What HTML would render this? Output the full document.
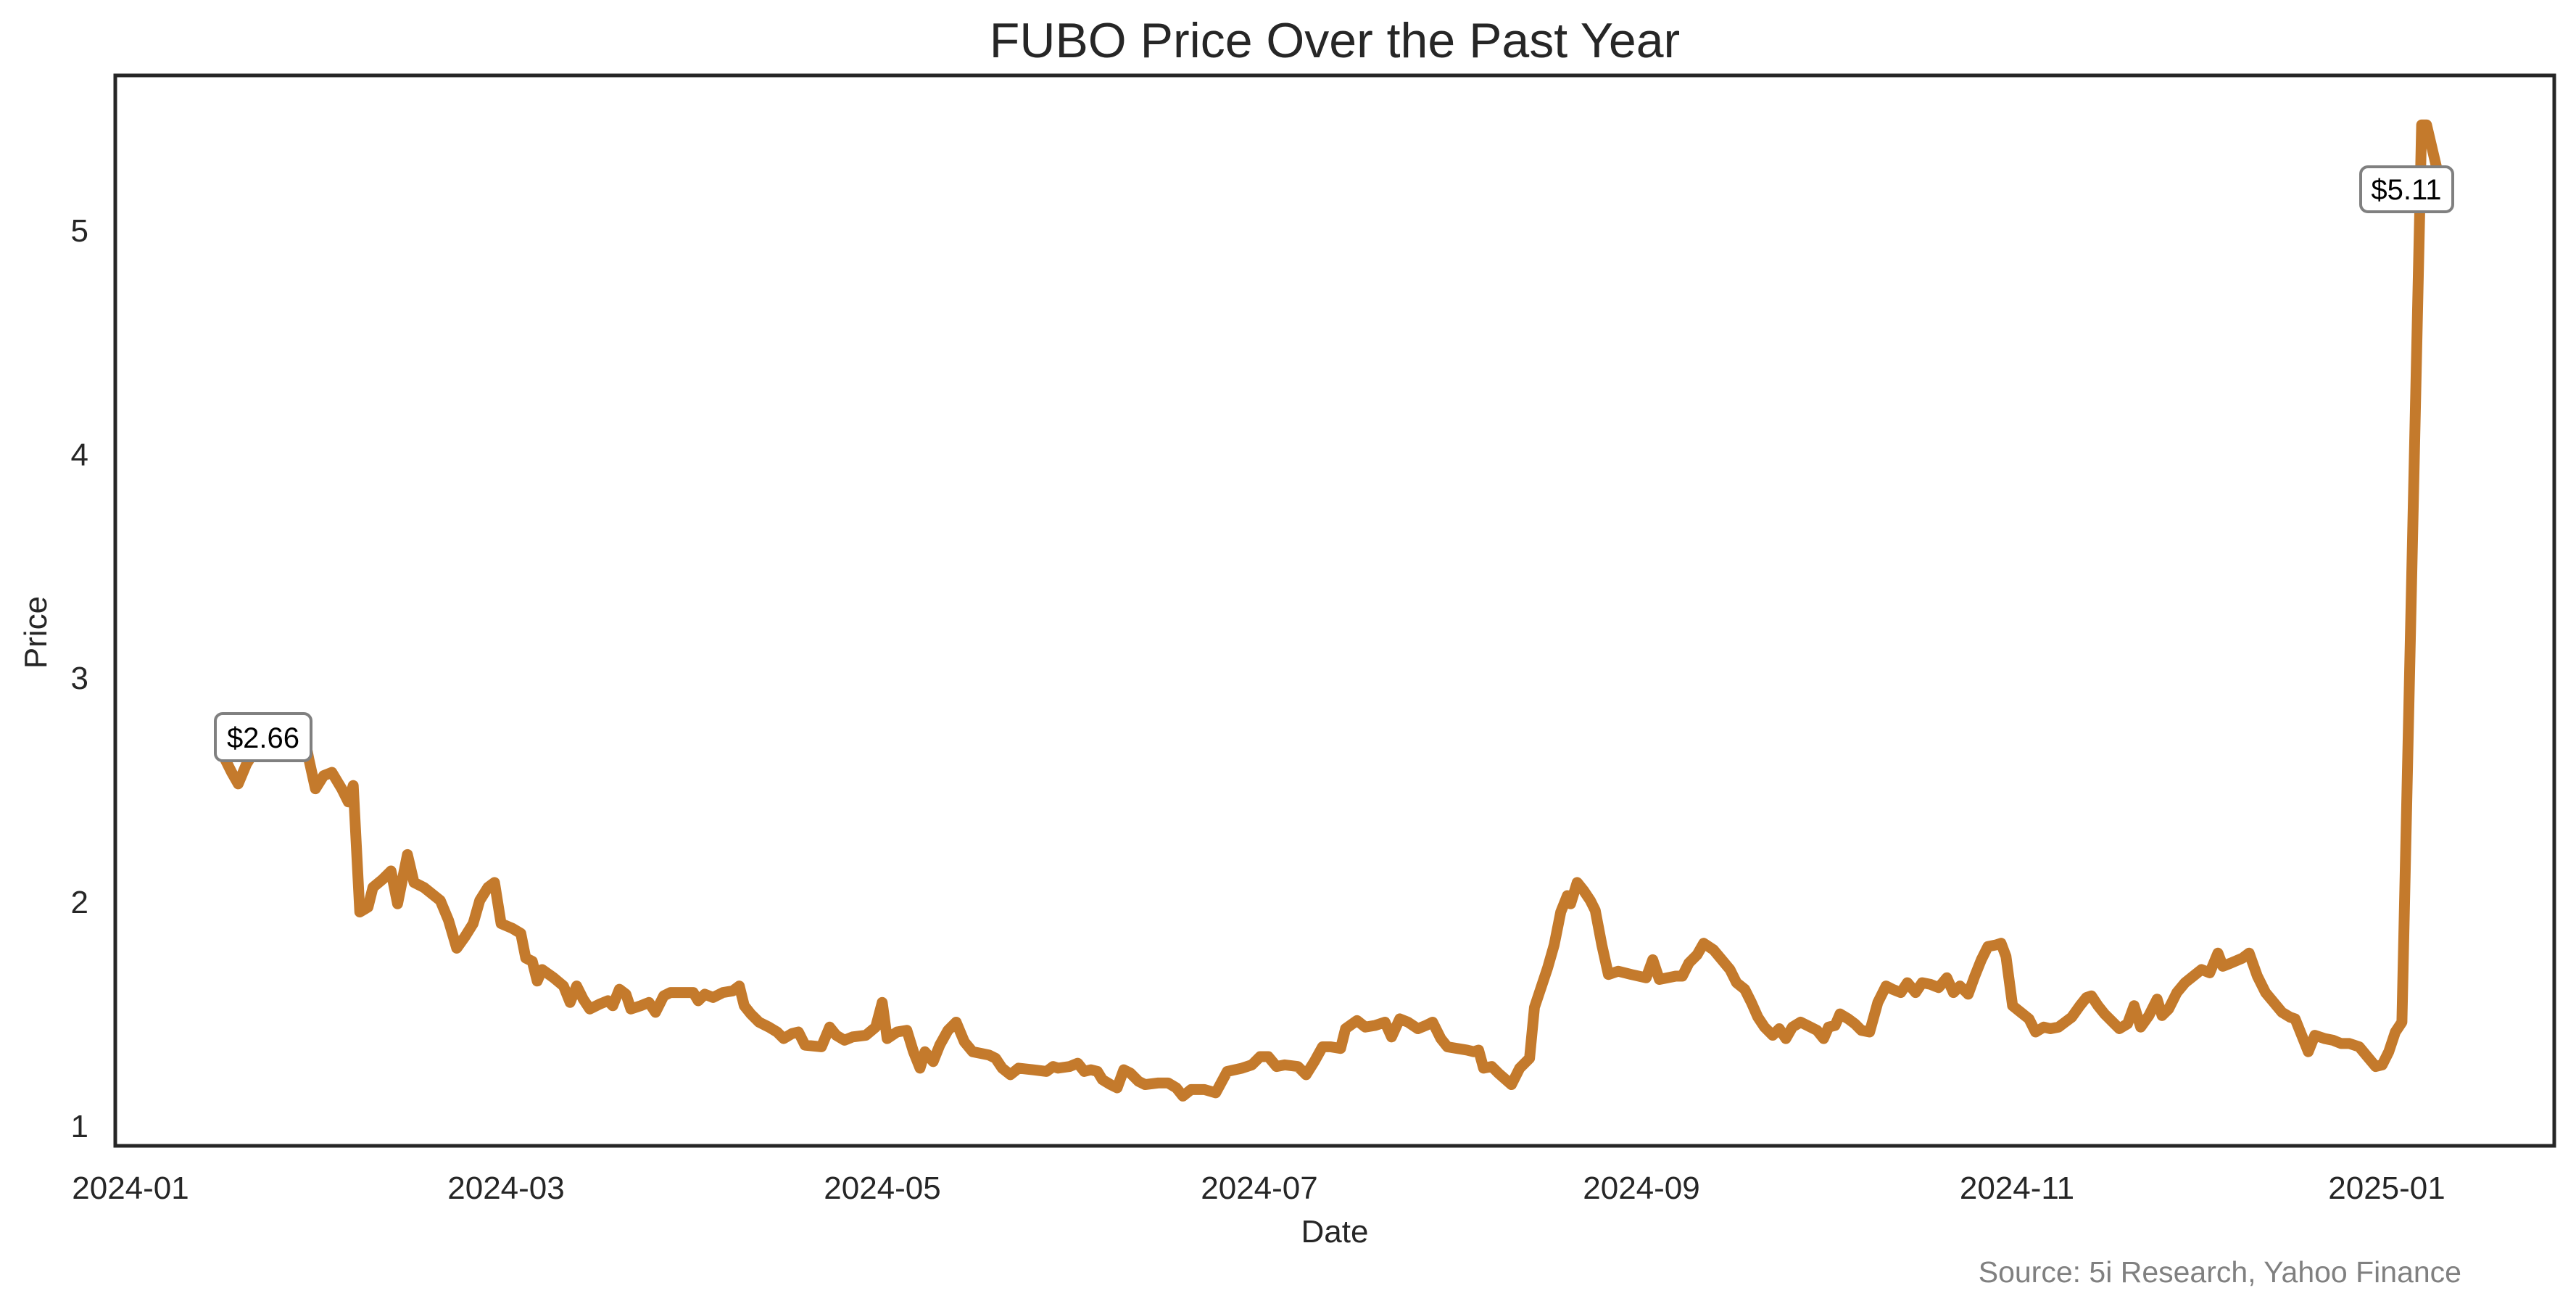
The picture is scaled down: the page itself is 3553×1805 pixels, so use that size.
<!DOCTYPE html>
<html><head><meta charset="utf-8"><style>html,body{margin:0;padding:0;background:#fff}svg{display:block}</style></head>
<body>
<svg width="3553" height="1805" viewBox="0 0 3553 1805" xmlns="http://www.w3.org/2000/svg" font-family="Liberation Sans, Arial, sans-serif">
<rect width="3553" height="1805" fill="#fff"/>
<g transform="scale(2.266)">
<polyline fill="none" stroke="#C47A2C" stroke-width="6.6" stroke-linejoin="round" stroke-linecap="round" points="137,462 141,470 145,477 150,465 155,457 165,455 175,453 186,452 188,462 192,480 197,472 202,470 208,480 212,488 215,478 219,555 224,552 227,540 233,535 238,530 242,550 248,520 252,537 258,540 268,548 273,560 278,577 283,570 288,562 292,548 297,540 301,537 305,562 312,565 317,568 320,583 324,585 327,597 330,590 337,595 343,600 347,610 351,600 355,608 359,614 365,611 370,609 373,612 377,602 381,605 384,614 390,612 395,610 399,616 404,606 408,604 422,604 425,609 429,605 434,607 440,604 446,603 450,600 453,612 457,617 462,622 468,625 473,628 477,632 482,629 486,628 490,636 500,637 505,625 509,630 514,633 519,631 527,630 533,625 537,610 540,632 546,628 552,627 556,640 560,650 563,640 568,646 572,636 577,627 582,622 587,634 592,640 597,641 602,642 606,644 610,650 615,654 620,650 629,651 637,652 641,649 644,650 651,649 656,647 660,652 664,651 668,652 671,657 676,660 680,662 684,651 688,653 693,658 697,660 705,659 711,659 716,662 720,667 725,663 733,663 740,665 747,652 756,650 762,648 767,643 772,643 777,649 782,648 790,649 795,654 800,646 805,637 810,637 816,638 819,626 826,621 831,625 837,624 843,622 847,631 852,620 857,622 863,626 868,624 872,622 877,632 881,637 887,638 893,639 897,640 900,639 903,650 908,649 912,653 920,660 925,650 931,644 934,613 938,601 942,589 946,575 950,555 954,545 956,550 960,537 964,542 968,548 971,554 975,575 979,593 985,591 993,593 1002,595 1006,584 1010,596 1020,594 1024,594 1028,586 1033,581 1037,574 1043,578 1048,584 1053,590 1057,598 1062,602 1066,610 1070,619 1074,625 1079,630 1083,626 1087,632 1091,625 1096,622 1100,624 1106,627 1110,632 1113,625 1117,624 1120,617 1125,620 1129,623 1133,627 1138,628 1143,610 1148,600 1152,602 1157,604 1161,598 1166,604 1170,598 1175,599 1180,601 1185,595 1189,604 1193,600 1198,605 1202,594 1206,584 1210,576 1215,575 1218,574 1221,582 1225,612 1230,616 1235,620 1239,628 1244,625 1248,626 1253,625 1257,622 1261,619 1266,612 1270,607 1273,606 1277,612 1281,617 1286,622 1290,626 1295,623 1299,612 1303,625 1308,618 1313,608 1316,618 1320,614 1325,604 1330,598 1335,594 1340,590 1345,592 1350,580 1353,588 1358,586 1365,583 1369,580 1374,594 1379,604 1384,610 1389,616 1394,619 1397,620 1401,630 1405,640 1409,630 1415,632 1420,633 1425,635 1430,635 1436,637 1441,643 1446,649 1450,648 1454,640 1458,628 1462,622 1474,76 1477,76 1485,110"/>
</g>
<rect x="159" y="104" width="3364" height="1476" fill="none" stroke="#262626" stroke-width="5"/>
<rect x="297" y="984" width="132" height="65" rx="10" fill="#fff" stroke="#808080" stroke-width="4"/>
<text x="363" y="1031" font-size="40" text-anchor="middle" fill="#000">$2.66</text>
<rect x="3256" y="230" width="127" height="62" rx="10" fill="#fff" stroke="#808080" stroke-width="4"/>
<text x="3319" y="275" font-size="40" text-anchor="middle" fill="#000">$5.11</text>
<text x="1841" y="79" font-size="68" text-anchor="middle" fill="#262626">FUBO Price Over the Past Year</text>
<g font-size="44" fill="#262626" text-anchor="end">
<text x="122" y="1568">1</text>
<text x="122" y="1259">2</text>
<text x="122" y="950">3</text>
<text x="122" y="642">4</text>
<text x="122" y="333">5</text>
</g>
<text transform="translate(64,872) rotate(-90)" font-size="44" text-anchor="middle" fill="#262626">Price</text>
<g font-size="44" fill="#262626" text-anchor="middle">
<text x="180" y="1653">2024-01</text>
<text x="698" y="1653">2024-03</text>
<text x="1217" y="1653">2024-05</text>
<text x="1737" y="1653">2024-07</text>
<text x="2264" y="1653">2024-09</text>
<text x="2782" y="1653">2024-11</text>
<text x="3292" y="1653">2025-01</text>
</g>
<text x="1841" y="1713" font-size="44" text-anchor="middle" fill="#262626">Date</text>
<text x="3395" y="1768" font-size="41" text-anchor="end" fill="#808080">Source: 5i Research, Yahoo Finance</text>
</svg>
</body></html>
